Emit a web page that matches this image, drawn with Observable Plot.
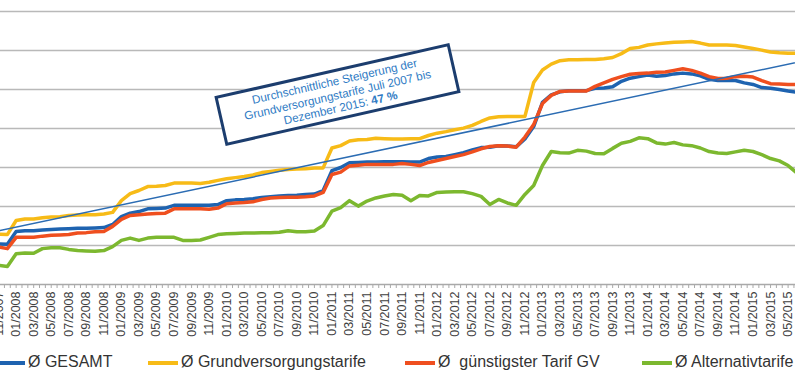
<!DOCTYPE html>
<html>
<head>
<meta charset="utf-8">
<script src="https://cdn.jsdelivr.net/npm/d3@7"></script>
<script src="https://cdn.jsdelivr.net/npm/@observablehq/plot@0.6"></script>
<style>
html,body{margin:0;padding:0;background:#fff;}
#frame{position:relative;width:795px;height:381px;overflow:hidden;background:#fff;font-family:"Liberation Sans",Arial,sans-serif;}
#chart{position:absolute;left:-36.6px;top:0;}
#chart svg{max-width:none !important;}
#note{position:absolute;left:216.75px;top:68.5px;width:241px;height:51px;box-sizing:border-box;border:3px solid #1c3d6e;background:#fff;transform:rotate(-12.8deg);display:flex;flex-direction:column;justify-content:center;align-items:center;color:#2f7bc4;font-size:11.7px;line-height:13.5px;text-align:center;white-space:nowrap;}
.leg{position:absolute;top:352px;font-size:16px;line-height:20px;color:#333;white-space:nowrap;}
.leg i{display:inline-block;width:30px;height:3.5px;vertical-align:middle;margin-right:3px;}
</style>
</head>
<body>
<div id="frame">
  <div id="chart"></div>
  <div id="note"></div>
  <div id="legend"></div>
</div>
<script>
// Categories: monthly, 07/2007 – 12/2015
const months = d3.timeMonth.range(new Date(2007, 6, 1), new Date(2016, 0, 1)).map(d3.timeFormat("%m/%Y"));
// Visible tick labels (every second month)
const firstLabel = "11/2007";
const lastLabel = "05/2015";

const seriesNames = ["Ø GESAMT", "Ø Grundversorgungstarife", "Ø\u00a0 günstigster Tarif GV", "Ø Alternativtarife"];
const seriesColors = ["#1e63b0", "#f7bb17", "#ef4f1f", "#7cb82f"];

const gesamt = [
  10.04, 10.04, 10.04, 10.04, 10.04, 10.03,
  10.36, 10.38, 10.38, 10.40, 10.41, 10.42, 10.43, 10.44, 10.44, 10.45, 10.46, 10.54,
  10.74, 10.83, 10.87, 10.94, 10.95, 10.96, 11.03, 11.03, 11.03, 11.03, 11.03, 11.05,
  11.15, 11.17, 11.18, 11.20, 11.23, 11.25, 11.27, 11.28, 11.29, 11.31, 11.32, 11.41,
  11.92, 12.00, 12.12, 12.13, 12.14, 12.14, 12.15, 12.15, 12.15, 12.14, 12.14, 12.23,
  12.27, 12.28, 12.33, 12.38, 12.45, 12.51, 12.52, 12.56, 12.55, 12.53, 12.73, 13.05,
  13.67, 13.86, 13.94, 13.97, 13.97, 13.97, 14.03, 14.04, 14.07, 14.21, 14.29, 14.33,
  14.37, 14.34, 14.36, 14.40, 14.42, 14.40, 14.35, 14.26, 14.23, 14.23, 14.23, 14.17,
  14.13, 14.05, 14.03, 14.00, 13.96, 13.93, 13.91, 13.90, 13.88, 13.87, 13.87, 13.86
];
const grundversorgung = [
  10.19, 10.22, 10.26, 10.28, 10.29, 10.28,
  10.64, 10.68, 10.68, 10.71, 10.73, 10.74, 10.77, 10.78, 10.79, 10.79, 10.81, 10.85,
  11.15, 11.33, 11.41, 11.51, 11.52, 11.54, 11.60, 11.60, 11.60, 11.59, 11.62, 11.67,
  11.71, 11.74, 11.77, 11.81, 11.87, 11.90, 11.93, 11.95, 11.96, 11.97, 11.99, 11.99,
  12.50, 12.56, 12.68, 12.71, 12.72, 12.75, 12.74, 12.73, 12.73, 12.74, 12.74, 12.82,
  12.88, 12.92, 12.97, 13.01, 13.08, 13.18, 13.27, 13.30, 13.31, 13.31, 13.31, 14.18,
  14.50, 14.65, 14.74, 14.76, 14.76, 14.77, 14.77, 14.79, 14.82, 14.92, 15.05, 15.08,
  15.14, 15.17, 15.19, 15.21, 15.22, 15.23, 15.19, 15.14, 15.14, 15.14, 15.13, 15.09,
  15.05, 15.01, 14.96, 14.94, 14.93, 14.93, 14.94, 14.95, 14.95, 14.96, 14.97, 14.98
];
const guenstigster = [
  9.95, 9.95, 9.95, 9.96, 9.96, 9.92,
  10.21, 10.21, 10.21, 10.24, 10.26, 10.27, 10.28, 10.32, 10.33, 10.35, 10.36, 10.49,
  10.67, 10.77, 10.79, 10.81, 10.82, 10.83, 10.94, 10.94, 10.94, 10.94, 10.93, 10.96,
  11.07, 11.09, 11.10, 11.12, 11.18, 11.22, 11.23, 11.24, 11.24, 11.25, 11.27, 11.36,
  11.82, 11.88, 12.04, 12.06, 12.08, 12.08, 12.08, 12.08, 12.10, 12.08, 12.05, 12.13,
  12.18, 12.23, 12.28, 12.33, 12.40, 12.48, 12.54, 12.56, 12.55, 12.52, 12.78, 13.10,
  13.64, 13.85, 13.95, 13.96, 13.96, 13.96, 14.08, 14.17, 14.26, 14.33, 14.39, 14.41,
  14.42, 14.44, 14.45, 14.49, 14.53, 14.49, 14.42, 14.33, 14.28, 14.29, 14.33, 14.34,
  14.32, 14.23, 14.15, 14.14, 14.13, 14.13, 14.12, 14.10, 14.10, 14.09, 14.09, 14.08
];
const alternativ = [
  9.49, 9.49, 9.49, 9.49, 9.49, 9.46,
  9.79, 9.81, 9.80, 9.92, 9.94, 9.94, 9.90, 9.87, 9.86, 9.85, 9.87, 9.97,
  10.13, 10.19, 10.13, 10.19, 10.21, 10.21, 10.21, 10.13, 10.13, 10.14, 10.21, 10.28,
  10.30, 10.31, 10.32, 10.32, 10.33, 10.33, 10.34, 10.38, 10.35, 10.35, 10.37, 10.51,
  10.88, 10.97, 11.15, 11.01, 11.14, 11.22, 11.27, 11.31, 11.29, 11.15, 11.28, 11.27,
  11.36, 11.37, 11.38, 11.38, 11.33, 11.26, 11.05, 11.18, 11.09, 11.03, 11.31, 11.54,
  12.05, 12.41, 12.38, 12.37, 12.44, 12.42, 12.36, 12.35, 12.49, 12.62, 12.67, 12.76,
  12.74, 12.63, 12.60, 12.64, 12.58, 12.56, 12.50, 12.41, 12.37, 12.36, 12.40, 12.44,
  12.41, 12.33, 12.23, 12.17, 12.05, 11.86, 11.77, 11.72, 11.72, 11.74, 11.74, 11.77
];

const gridValues = [10, 11, 12, 13, 14, 15, 16];
const axisBase = 9;
const noteLines = ["Durchschnittliche Steigerung der", "Grundversorgungstarife Juli 2007 bis", "Dezember 2015: "];
const noteValue = "47 %";

const rows = arr => arr.map((v, i) => ({i, v}));
const i0 = months.indexOf(firstLabel), i1 = months.indexOf(lastLabel);
const labelTicks = d3.range(i0, i1 + 1, 2);
const minorTicks = d3.range(0, months.length - 0.99, 2 / 3);
const trend = [
  {i: 0, v: grundversorgung[0]},
  {i: grundversorgung.length - 1, v: grundversorgung[grundversorgung.length - 1]}
];
const allSeries = [gesamt, grundversorgung, guenstigster, alternativ];

const plot = Plot.plot({
  width: 886,
  height: 344,
  marginTop: 11,
  marginBottom: 60,
  marginLeft: 0,
  marginRight: 0,
  x: {type: "linear", domain: [0, months.length - 1], axis: null},
  y: {domain: [9, 16], axis: null},
  style: {fontFamily: "'Liberation Sans', Arial, sans-serif", background: "transparent", maxWidth: "none", overflow: "visible"},
  marks: [
    Plot.gridY(gridValues, {stroke: "#b9b9b9", strokeOpacity: 1, strokeWidth: 1.3}),
    Plot.ruleY([axisBase], {stroke: "#a9a9a9", strokeWidth: 1.3}),
    Plot.axisX(minorTicks, {tickSize: 4, fill: "none", stroke: "#a9a9a9", strokeOpacity: 1}),
    Plot.axisX(labelTicks, {tickSize: 0, tickPadding: 7, tickRotate: -90, tickFormat: i => months[i], fontSize: 12.5, fill: "#404040"}),
    ...allSeries.map((s, k) => Plot.line(rows(s), {x: "i", y: "v", stroke: seriesColors[k], strokeWidth: 3.5})),
    Plot.line(trend, {x: "i", y: "v", stroke: "#2b6cb3", strokeWidth: 1.5})
  ]
});
document.getElementById("chart").appendChild(plot);

// annotation box
const note = document.getElementById("note");
noteLines.forEach((t, k) => {
  const d = document.createElement("div");
  d.textContent = t;
  if (k === noteLines.length - 1) {
    const b = document.createElement("b");
    b.textContent = noteValue;
    d.appendChild(b);
  }
  note.appendChild(d);
});

// legend
const legendLeft = [-5, 148, 405, 642];
const legend = document.getElementById("legend");
seriesNames.forEach((name, k) => {
  const item = document.createElement("div");
  item.className = "leg";
  item.style.left = legendLeft[k] + "px";
  const sw = document.createElement("i");
  sw.style.background = seriesColors[k];
  item.appendChild(sw);
  item.appendChild(document.createTextNode(name));
  legend.appendChild(item);
});
</script>
</body>
</html>
